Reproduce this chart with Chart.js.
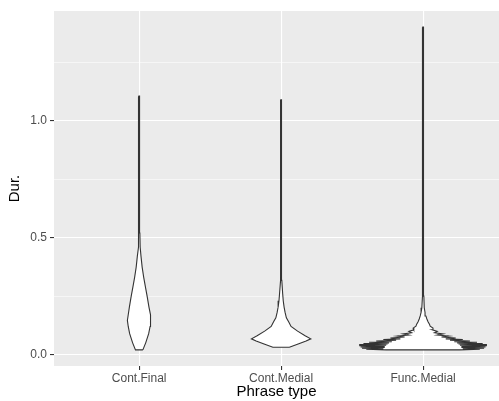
<!DOCTYPE html>
<html>
<head>
<meta charset="utf-8">
<script src="https://cdn.jsdelivr.net/npm/chart.js@4.4.1/dist/chart.umd.min.js"></script>
<style>
  html, body { margin: 0; padding: 0; background: #ffffff; }
  #c { display: block; }
</style>
</head>
<body>
<canvas id="c" width="499" height="401"></canvas>
<script>
// Phrase types shown along the x axis
const categories = ['Cont.Final', 'Cont.Medial', 'Func.Medial'];

// Violin outlines: duration values and the half-width of the density at each value
const finalDur   = [0.020, 0.050, 0.089, 0.120, 0.146, 0.170, 0.203, 0.250, 0.289, 0.330, 0.374, 0.420, 0.460, 0.520, 0.700, 0.900, 1.105];
const finalWidth = [0.026, 0.046, 0.067, 0.077, 0.083, 0.077, 0.069, 0.056, 0.044, 0.032, 0.021, 0.013, 0.007, 0.005, 0.0035, 0.003, 0.002];

const medialDur   = [0.031, 0.045, 0.058, 0.067, 0.080, 0.100, 0.120, 0.140, 0.157, 0.180, 0.203, 0.230, 0.260, 0.317, 0.500, 0.800, 1.089];
const medialWidth = [0.058, 0.120, 0.176, 0.209, 0.169, 0.116, 0.070, 0.053, 0.037, 0.028, 0.021, 0.015, 0.011, 0.005, 0.0035, 0.003, 0.002];

// Function-word durations are coarsely quantised, so their density has many narrow peaks
const funcDur   = [0.020, 0.0225, 0.025, 0.0275, 0.030, 0.0325, 0.035, 0.0375, 0.040, 0.0425, 0.045, 0.0475, 0.050, 0.0525, 0.055, 0.058, 0.061, 0.064, 0.067, 0.071, 0.075, 0.079, 0.083, 0.088, 0.093, 0.099, 0.106, 0.113, 0.121, 0.130, 0.140, 0.152, 0.165, 0.180, 0.200, 0.250, 0.350, 0.600, 1.000, 1.400];
const funcWidth = [0.260, 0.400, 0.280, 0.430, 0.270, 0.440, 0.270, 0.450, 0.260, 0.450, 0.250, 0.420, 0.240, 0.380, 0.220, 0.330, 0.190, 0.280, 0.160, 0.230, 0.130, 0.180, 0.100, 0.140, 0.080, 0.100, 0.065, 0.070, 0.050, 0.045, 0.035, 0.027, 0.020, 0.014, 0.0085, 0.0056, 0.0042, 0.0035, 0.003, 0.002];

// Axis ticks
const yMajorTicks = [0, 0.5, 1.0];
const yMinorTicks = [0.25, 0.75, 1.25];

// Mirror a density profile around its category position into a closed outline
function violin(pos, dur, width) {
  const right = dur.map((v, i) => ({ x: pos + width[i], y: v }));
  const left = dur.map((v, i) => ({ x: pos - width[i], y: v })).reverse();
  const pts = right.concat(left);
  pts.push({ x: pts[0].x, y: pts[0].y });
  return pts;
}

const series = [
  [finalDur, finalWidth],
  [medialDur, medialWidth],
  [funcDur, funcWidth]
];

const datasets = series.map(([dur, width], i) => ({
  label: categories[i],
  data: violin(i + 1, dur, width),
  showLine: true,
  fill: 'shape',
  backgroundColor: '#ffffff',
  borderColor: '#333333',
  borderWidth: 1.1,
  pointRadius: 0,
  pointHoverRadius: 0,
  tension: 0
}));

// Grey panel behind the grid
const panelBackground = {
  id: 'panelBackground',
  beforeDraw(chart) {
    const { ctx, chartArea: a } = chart;
    ctx.save();
    ctx.fillStyle = '#EBEBEB';
    ctx.fillRect(a.left, a.top, a.right - a.left, a.bottom - a.top);
    ctx.restore();
  }
};

const isMajor = v => yMajorTicks.some(t => Math.abs(t - v) < 1e-9);
const tickFont = { family: "'Liberation Sans', Arial, sans-serif", size: 12 };
const titleFont = { family: "'Liberation Sans', Arial, sans-serif", size: 15 };

new Chart(document.getElementById('c'), {
  type: 'scatter',
  data: { datasets },
  plugins: [panelBackground],
  options: {
    responsive: false,
    animation: false,
    devicePixelRatio: 1,
    layout: { padding: { top: 11, right: 0, bottom: 0, left: 0 } },
    plugins: {
      legend: { display: false },
      tooltip: { enabled: false }
    },
    scales: {
      x: {
        type: 'linear',
        min: 0.4,
        max: 3.535,
        afterBuildTicks: s => { s.ticks = categories.map((c, i) => ({ value: i + 1 })); },
        afterFit: s => { s.height = 35; },
        ticks: {
          autoSkip: false,
          maxRotation: 0,
          padding: 1,
          color: '#4D4D4D',
          font: tickFont,
          callback: (v, i) => categories[i]
        },
        grid: {
          color: '#ffffff',
          lineWidth: 1.1,
          drawTicks: true,
          tickLength: 4,
          tickColor: '#333333',
          tickWidth: 1.1
        },
        border: { display: false },
        title: {
          display: true,
          text: 'Phrase type',
          color: '#000000',
          font: titleFont,
          padding: { top: 0, bottom: 0 }
        }
      },
      y: {
        type: 'linear',
        min: -0.049,
        max: 1.469,
        afterBuildTicks: s => {
          s.ticks = yMajorTicks.concat(yMinorTicks).sort((a, b) => a - b).map(v => ({ value: v }));
        },
        afterFit: s => { s.width = 54; },
        ticks: {
          padding: 3,
          color: '#4D4D4D',
          font: tickFont,
          callback: v => (isMajor(v) ? v.toFixed(1) : '')
        },
        grid: {
          color: '#ffffff',
          lineWidth: c => (isMajor(c.tick.value) ? 1.1 : 0.55),
          drawTicks: true,
          tickLength: 4,
          tickColor: c => (isMajor(c.tick.value) ? '#333333' : 'rgba(0,0,0,0)'),
          tickWidth: 1.1
        },
        border: { display: false },
        title: {
          display: true,
          text: 'Dur.',
          color: '#000000',
          font: titleFont,
          padding: { top: 6, bottom: 0 }
        }
      }
    }
  }
});
</script>
</body>
</html>
